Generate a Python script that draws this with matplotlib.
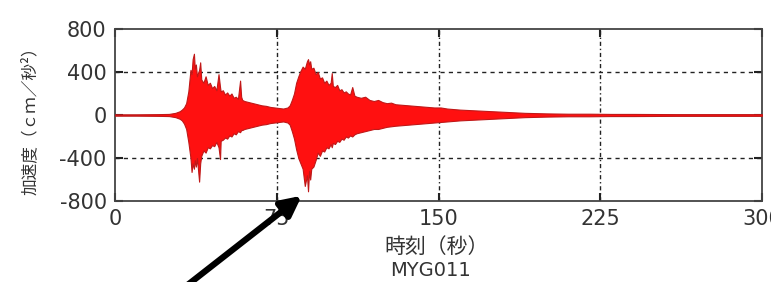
import matplotlib
matplotlib.use("Agg")
import matplotlib.pyplot as plt

# ---- data ----
t_env = [0, 10, 20, 25, 28, 30, 31, 32, 33, 34, 35, 35.5, 36, 36.6, 37, 37.5, 38, 39, 39.5,
         40, 41, 42, 43, 44, 45, 46, 47, 48, 48.7, 49, 50, 51, 52, 53, 54, 55, 56, 57, 58,
         58.5, 59, 60, 62, 64, 66, 68, 70, 72, 74, 76, 78, 80, 81, 82, 83, 84, 85, 86, 87,
         88, 89, 89.5, 90, 90.5, 91, 92, 93, 94, 95, 96, 97, 98, 99, 100, 100.5, 101, 102,
         103, 104, 105, 106, 107, 108, 109, 110, 111, 112, 114, 116, 118, 120, 122, 124,
         126, 128, 130, 133, 136, 139, 142, 145, 148, 151, 154, 157, 160, 165, 170, 175,
         180, 185, 190, 200, 210, 220, 230, 240, 250, 260, 270, 280, 290, 300]
upper = [6, 6, 8, 10, 20, 35, 50, 70, 110, 220, 420, 380, 520, 570, 430, 470, 360, 420, 490,
         330, 300, 360, 280, 300, 250, 270, 230, 380, 260, 220, 230, 190, 210, 180, 200, 160,
         170, 150, 320, 170, 140, 130, 120, 110, 100, 90, 85, 75, 70, 65, 60, 70, 90, 140,
         200, 300, 360, 410, 450, 430, 500, 520, 470, 500, 430, 440, 380, 400, 340, 350, 300,
         320, 280, 300, 390, 270, 260, 280, 230, 240, 210, 220, 200, 190, 260, 180, 170, 160,
         170, 140, 130, 140, 120, 110, 115, 100, 95, 90, 85, 80, 75, 70, 70, 60, 55, 50, 45,
         40, 35, 30, 25, 20, 15, 12, 12, 10, 10, 9, 8, 8, 8, 8, 8]
lower = [-6, -6, -8, -10, -20, -35, -50, -80, -130, -250, -400, -530, -450, -500, -420, -480,
         -400, -620, -450, -380, -330, -350, -300, -310, -280, -290, -250, -300, -410, -240,
         -230, -210, -220, -190, -200, -170, -180, -150, -160, -140, -140, -130, -120, -110,
         -100, -90, -85, -75, -70, -65, -60, -70, -90, -150, -220, -320, -400, -450, -500,
         -660, -560, -710, -520, -600, -500, -480, -420, -350, -380, -330, -340, -300, -310,
         -270, -300, -260, -270, -240, -250, -220, -230, -200, -210, -190, -200, -180, -170,
         -160, -150, -140, -130, -130, -120, -110, -105, -100, -95, -90, -85, -80, -75, -70,
         -65, -60, -55, -50, -45, -40, -35, -30, -25, -20, -15, -12, -12, -10, -10, -9, -8,
         -8, -8, -8, -8]

x_ticks = [0, 75, 150, 225, 300]
y_ticks = [-800, -400, 0, 400, 800]
y_grid = [-400, 400]
x_grid = [75, 150, 225]

cjk = ["Noto Sans CJK JP", "DejaVu Sans"]

W, H = 771, 282
fig = plt.figure(figsize=(W / 100, H / 100), dpi=100)
ax = fig.add_axes([115 / W, (H - 201) / H, (762 - 115) / W, (201 - 29) / H])

ax.plot([x_ticks[0], x_ticks[-1]], [0, 0], color="#555555", lw=1.0, zorder=2)
ax.fill_between(t_env, lower, upper, facecolor="#ff1010", lw=0.8, edgecolor="#c01818",
                zorder=3)

for g in y_grid:
    ax.axhline(g, color="#222222", lw=1.0, ls=(0, (3, 3)), zorder=1)
for g in x_grid:
    ax.axvline(g, color="#222222", lw=1.0, ls=(0, (3, 2, 1, 2)), zorder=1)

ax.set_xlim(x_ticks[0], x_ticks[-1])
ax.set_ylim(y_ticks[0], y_ticks[-1])
ax.set_xticks(x_ticks)
ax.set_yticks(y_ticks)
ax.set_xticklabels([str(v) for v in x_ticks], fontsize=15, color="#333333")
ax.set_yticklabels([str(v) for v in y_ticks], fontsize=15, color="#333333")
ax.tick_params(direction="in", length=6, width=1.5, top=True, right=True, pad=6,
               color="#222222")
for s in ax.spines.values():
    s.set_color("#444444")
    s.set_linewidth(1.3)

fig.text(30 / W, (H - 117) / H, "加速度（ｃｍ／秒²）", rotation=90, ha="center", va="center",
         fontsize=12, family=cjk, color="#333333")
fig.text(437 / W, (H - 247) / H, "時刻（秒）", ha="center", va="center",
         fontsize=15, family=cjk, color="#333333")
fig.text(431 / W, (H - 271) / H, "MYG011", ha="center", va="center",
         fontsize=14, color="#333333")

fig.add_artist(matplotlib.patches.FancyArrowPatch(
    posA=(176 / W, -12 / H), posB=(304 / W, (H - 194) / H),
    transform=fig.transFigure, arrowstyle="-|>", mutation_scale=30,
    lw=4.5, color="black", zorder=10))

fig.savefig("out.png", dpi=100)
